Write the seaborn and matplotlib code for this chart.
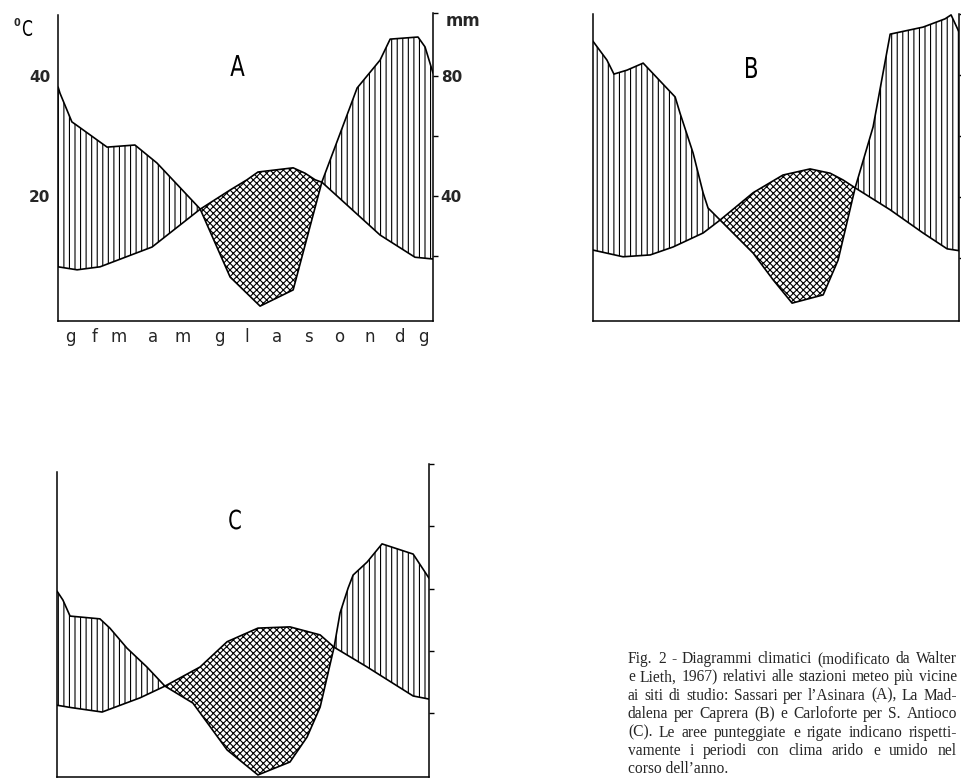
import numpy as np
import matplotlib
matplotlib.use("Agg")
import matplotlib.pyplot as plt
import matplotlib.transforms as mtransforms
from matplotlib.textpath import TextPath
from matplotlib.patches import PathPatch
from matplotlib.font_manager import FontProperties
import seaborn as sns

# ── DATA ──────────────────────────────────────────────────────────────────────
# x = month position (ticks at 1..12), precipitation in mm, temperature in °C
MONTHS    = ["g", "f", "m", "a", "m", "g", "l", "a", "s", "o", "n", "d", "g"]
MONTH_POS = [0.74, 1.53, 2.34, 3.45, 4.42, 5.62, 6.52, 7.51, 8.52, 9.53, 10.54, 11.5, 12.3]

# A – Sassari (Asinara)
A_PREC_X  = [0.35, 0.41, 0.80, 0.90, 1.95, 2.86, 3.58, 4.99, 5.97, 6.95, 8.03,
             8.97, 9.89, 10.12, 10.87, 11.20, 12.11, 12.34, 12.60]
A_PREC_MM = [76.3, 74.3, 64.7, 64.0, 56.3, 57.0, 51.0, 35.7, 13.0, 3.3, 8.7,
             44.7, 69.7, 76.0, 85.3, 92.3, 93.0, 89.7, 81.0]
A_TEMP_X  = [0.35, 0.97, 1.72, 3.42, 4.99, 5.97, 6.52, 6.88, 8.03, 8.42, 8.75,
             8.97, 10.87, 12.01, 12.60]
A_TEMP_C  = [8.2, 7.7, 8.2, 11.5, 17.8, 21.0, 22.7, 24.0, 24.7, 23.8, 22.7,
             22.3, 13.5, 9.8, 9.5]

# B – La Maddalena (Caprera)
B_PREC_X  = [0.34, 0.80, 1.03, 1.46, 1.99, 3.04, 3.20, 3.63, 3.96, 4.12, 4.51,
             5.60, 6.26, 6.88, 7.90, 8.39, 8.95, 9.54, 10.10, 11.18, 11.90,
             12.10, 12.36]
B_PREC_MM = [91.1, 84.9, 80.3, 81.6, 83.9, 72.8, 67.5, 54.4, 41.3, 36.4, 32.5,
             21.6, 12.8, 5.2, 7.9, 19.3, 43.0, 63.0, 93.4, 95.7, 98.4, 99.7, 94.1]
B_TEMP_X  = [0.34, 1.33, 2.22, 2.97, 3.96, 4.51, 5.60, 6.58, 7.47, 8.13, 8.55,
             8.95, 10.10, 11.18, 11.97, 12.36]
B_TEMP_C  = [11.3, 10.2, 10.5, 11.8, 14.1, 16.2, 20.7, 23.6, 24.6, 23.9, 22.8,
             21.5, 17.9, 14.1, 11.5, 11.2]

# C – Carloforte (S. Antioco)
C_PREC_X  = [0.55, 0.74, 0.97, 1.93, 2.25, 2.80, 3.44, 4.02, 4.92, 6.02, 7.01,
             8.04, 8.59, 9.01, 9.46, 9.65, 9.91, 10.07, 10.52, 11.00, 12.00, 12.51]
C_PREC_MM = [61.4, 58.5, 53.3, 52.4, 49.4, 42.9, 36.8, 30.6, 25.1, 9.9, 1.8,
             6.0, 14.1, 23.8, 43.3, 54.3, 62.4, 66.6, 70.8, 76.7, 73.4, 65.6]
C_TEMP_X  = [0.55, 1.03, 2.00, 3.22, 4.02, 5.15, 6.02, 7.01, 8.04, 9.01, 9.46,
             10.52, 12.00, 12.51]
C_TEMP_C  = [12.2, 11.8, 11.1, 13.4, 15.3, 18.4, 22.5, 24.7, 24.9, 23.6, 21.6,
             18.4, 13.7, 13.2]

CAPTION = [
    "Fig. 2 - Diagrammi climatici (modificato da Walter",
    "e Lieth, 1967) relativi alle stazioni meteo più vicine",
    "ai siti di studio: Sassari per l’Asinara (A), La Mad-",
    "dalena per Caprera (B) e Carloforte per S. Antioco",
    "(C). Le aree punteggiate e rigate indicano rispetti-",
    "vamente i periodi con clima arido e umido nel",
    "corso dell’anno.",
]

# ── STYLE ─────────────────────────────────────────────────────────────────────
sns.set_style("white")
plt.rcParams["font.family"] = ["DejaVu Sans"]
plt.rcParams["hatch.linewidth"] = 0.8
plt.rcParams["hatch.color"] = "black"
W, H = 961, 780
SERIF = FontProperties(family=["Liberation Serif", "DejaVu Serif"], size=11.2)

fig = plt.figure(figsize=(W / 100, H / 100), dpi=100)
fig.patch.set_facecolor("white")


def box(x0, y0, x1, y1):
    # pixel box (left, top, right, bottom) -> figure fraction
    return [x0 / W, 1 - y1 / H, (x1 - x0) / W, (y1 - y0) / H]


def narrow_text(s, cx, cy, height, xscale=0.74):
    # condensed lettering, drawn as a path in pixel space
    tp = TextPath((0, 0), s, size=100, prop=FontProperties(family="DejaVu Sans"))
    bb = tp.get_extents()
    k = height / bb.height
    tr = (mtransforms.Affine2D()
          .translate(-(bb.x0 + bb.width / 2), -(bb.y0 + bb.height / 2))
          .scale(k * xscale, k)
          .translate(cx, H - cy))
    fig.add_artist(PathPatch(tr.transform_path(tp), facecolor="black", lw=0,
                             transform=mtransforms.IdentityTransform()))


def panel(main_box, right_box, xlim, ylim, rylim, px, pmm, tx, tc,
          labels=False):
    ax = fig.add_axes(box(*main_box))
    ax.patch.set_alpha(0)
    pT = np.asarray(pmm) / 2.0          # Walter-Lieth scale: 10 °C = 20 mm

    grid = np.union1d(px, tx)
    p = np.interp(grid, px, pT)
    t = np.interp(grid, tx, tc)
    ax.fill_between(grid, p, t, where=p >= t, interpolate=True,
                    facecolor="none", edgecolor="black", hatch="|||", lw=0)
    ax.fill_between(grid, p, t, where=p <= t, interpolate=True,
                    facecolor="none", edgecolor="black", hatch="xxxxx", lw=0)

    sns.lineplot(x=px, y=pT, ax=ax, color="black", lw=1.2, sort=False,
                 estimator=None)
    sns.lineplot(x=tx, y=tc, ax=ax, color="black", lw=1.2, sort=False,
                 estimator=None)

    ax.set_xlim(*xlim)
    ax.set_ylim(*ylim)
    for s in ["top", "right"]:
        ax.spines[s].set_visible(False)
    for s in ["left", "bottom"]:
        ax.spines[s].set_linewidth(1.1)
        ax.spines[s].set_color("black")

    ax.set_xticks(range(1, 13))
    ax.set_xticklabels([])
    ax.tick_params(axis="x", direction="in", length=3, width=1, color="black")
    ax.set_yticks([10, 20, 30, 40, ylim[1]])
    ax.tick_params(axis="y", direction="out", length=3.5, width=1,
                   color="black", pad=2, labelsize=11)
    if labels:
        ax.set_yticklabels(["", "20", "", "40", ""], fontweight="bold")
    else:
        ax.set_yticklabels([])
    ax.set_xlabel("")
    ax.set_ylabel("")

    if labels:
        trans = mtransforms.blended_transform_factory(ax.transData, ax.transAxes)
        for pos, m in zip(MONTH_POS, MONTHS):
            ax.text(pos, -0.07, m, transform=trans, ha="center",
                    va="baseline", fontsize=12)

    rax = fig.add_axes(box(*right_box))
    rax.patch.set_alpha(0)
    for s in ["top", "left", "bottom"]:
        rax.spines[s].set_visible(False)
    rax.spines["right"].set_linewidth(1.1)
    rax.spines["right"].set_color("black")
    rax.set_xticks([])
    rax.set_ylim(*rylim)
    rax.yaxis.tick_right()
    rax.set_yticks([20, 40, 60, 80, rylim[1]])
    rax.tick_params(axis="y", direction="out", length=3.5, width=1,
                    color="black", pad=2, labelsize=11)
    if labels:
        rax.set_yticklabels(["", "40", "", "80", ""], fontweight="bold")
    else:
        rax.set_yticklabels([])
    return ax


panel((58, 15, 433, 321), (433, 13, 433.01, 321), (0.346, 12.60),
      (-0.83, 50.17), (-1.67, 101), A_PREC_X, A_PREC_MM, A_TEMP_X, A_TEMP_C,
      labels=True)
panel((593, 14, 959, 321), (959, 14, 959.01, 321), (0.343, 12.36),
      (-0.33, 50), (-0.66, 100), B_PREC_X, B_PREC_MM, B_TEMP_X, B_TEMP_C)
panel((57, 472, 429, 777), (429, 464, 429.01, 777), (0.55, 12.51),
      (0.57, 50), (-0.5, 100), C_PREC_X, C_PREC_MM, C_TEMP_X, C_TEMP_C)

# panel letters and unit labels
narrow_text("A", 237.5, 65.5, 21)
narrow_text("B", 751.5, 67.5, 21)
narrow_text("C", 235, 519.5, 20)
narrow_text("C", 27.5, 28, 16)
fig.text(13 / W, 1 - 23 / H, "0", fontsize=7, fontweight="bold",
         ha="left", va="center")
fig.text(446 / W, 1 - 21 / H, "mm", fontsize=12, fontweight="bold",
         ha="left", va="center")

# caption, justified like the printed page
renderer = fig.canvas.get_renderer()
X0, X1 = 628, 957
for i, line in enumerate(CAPTION):
    yb = 1 - (663 + 18.4 * i) / H
    if i == len(CAPTION) - 1:
        fig.text(X0 / W, yb, line, fontproperties=SERIF, va="baseline")
        continue
    words = line.split(" ")
    widths = []
    for w in words:
        t = fig.text(0, 0, w, fontproperties=SERIF)
        widths.append(t.get_window_extent(renderer).width)
        t.remove()
    gap = (X1 - X0 - sum(widths)) / (len(words) - 1)
    x = X0
    for w, wd in zip(words, widths):
        fig.text(x / W, yb, w, fontproperties=SERIF, va="baseline")
        x += wd + gap

plt.savefig("out.png", dpi=100)
plt.close()
